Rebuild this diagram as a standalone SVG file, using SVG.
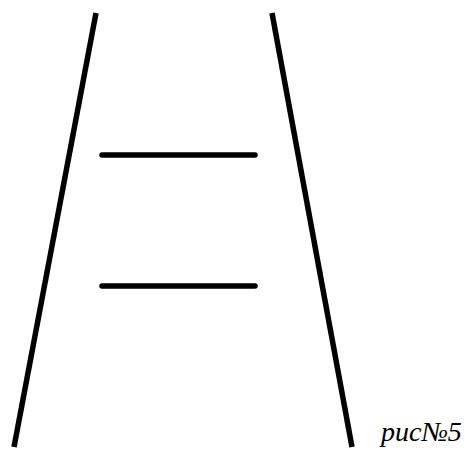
<svg xmlns="http://www.w3.org/2000/svg" width="465" height="453" viewBox="0 0 465 453">
<style>
.l{stroke:#000;stroke-width:5.5;fill:none}
.r{stroke:#000;stroke-width:5.5;stroke-linecap:round;fill:none}
.t{font-family:"Liberation Serif",serif;font-style:italic;font-size:28px;fill:#000}
</style>
<rect width="465" height="453" fill="#fff"/>
<g id="ladder">
<line class="l" x1="96" y1="13" x2="14" y2="447"/>
<line class="l" x1="272" y1="13" x2="352" y2="447"/>
<line class="r" x1="102" y1="155" x2="255" y2="155"/>
<line class="r" x1="102" y1="286" x2="255" y2="286"/>
</g>
<text class="t" x="381" y="441">рис№5</text>
</svg>
